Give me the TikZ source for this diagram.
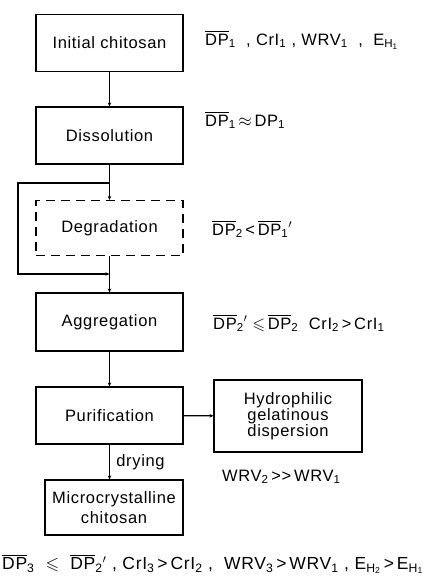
\documentclass[tikz,border=0pt]{standalone}
\usepackage{amssymb}
\usepackage{fontspec}
\setmainfont{Liberation Sans}[LetterSpace=4]
\usetikzlibrary{arrows.meta}
\newcommand\ovl[1]{$\overline{\mbox{#1}}$}
\newcommand\sub[1]{\textsubscript{#1}}
\begin{document}
\begin{tikzpicture}[x=1pt,y=-1pt,
  txt/.style={font=\fontsize{16.5}{19}\selectfont},
  box/.style={draw,line width=1.1pt,minimum width=147pt,minimum height=57pt,inner sep=2pt,align=center,txt},
  lbl/.style={anchor=west,inner sep=0pt,txt},
  conn/.style={line width=1.1pt,-{Stealth[length=4pt,width=3.5pt]}},
  line/.style={line width=1.1pt}]
\useasboundingbox (0,0) rectangle (431,582);
\node[box] (init) at (109.5,43) {Initial chitosan};
\node[box] (diss) at (109.5,135.5) {Dissolution};
\node[box,dashed,dash pattern=on 9pt off 6pt,minimum height=55pt] (degr) at (109.5,228) {Degradation};
\node[box,minimum height=58pt] (aggr) at (109.5,322) {Aggregation};
\node[box] (puri) at (109.5,415.5) {Purification};
\node[box,minimum width=148pt,minimum height=72pt,align=center] (hydro) at (288,416) {Hydrophilic\\[-3pt]gelatinous\\[-3pt]dispersion};
\node[box,minimum width=138pt,minimum height=55pt] (micro) at (114,507.5) {Microcrystalline\\[1pt]chitosan};
\coordinate (split) at (109.5,183);
\coordinate (bl) at (18,183);
\coordinate (br) at (18,274);
\coordinate (join) at (109.5,274);
\draw[conn] (init) -- (diss);
\draw[conn] (diss) -- (degr);
\draw[conn] (split) -- (bl) -- (br) -- (join);
\draw[conn] (degr) -- (aggr);
\draw[conn] (aggr) -- (puri);
\draw[conn] (puri) -- (hydro);
\draw[conn] (puri.south) -- (puri.south |- micro.north) node[midway,right=3pt,txt] (dry) {drying};
\node[lbl] (l1) at (205,40) {\ovl{DP}\sub{1}\ \ ,\ CrI\sub{1}\ ,\ WRV\sub{1}\ \ ,\ \ E\sub{H\sub{1}}};
\node[lbl] (l2) at (205,120) {\ovl{DP}\sub{1}\,$\approx$\,DP\sub{1}};
\node[lbl] (l3) at (212,229) {\ovl{DP}\sub{2}\,<\,\ovl{DP}\sub{1}$'$};
\node[lbl] (l4) at (213,323) {\ovl{DP}\sub{2}$'\leqslant$\,\ovl{DP}\sub{2}\ \ CrI\sub{2}\,>\,CrI\sub{1}};
\node[lbl] (l5) at (222,477) {WRV\sub{2}\,{>}{>}\,WRV\sub{1}};
\node[lbl,font=\fontsize{17.5}{20}\selectfont] (l6) at (2,564) {\ovl{DP}\sub{3}\ \ $\leqslant$\ \ \ovl{DP}\sub{2}$'$\ ,\ CrI\sub{3}\,>\,CrI\sub{2}\ ,\ \ WRV\sub{3}\,>\,WRV\sub{1}\ ,\ E\sub{H\sub{2}}\,>\,E\sub{H\sub{1}}};
\end{tikzpicture}
\end{document}
